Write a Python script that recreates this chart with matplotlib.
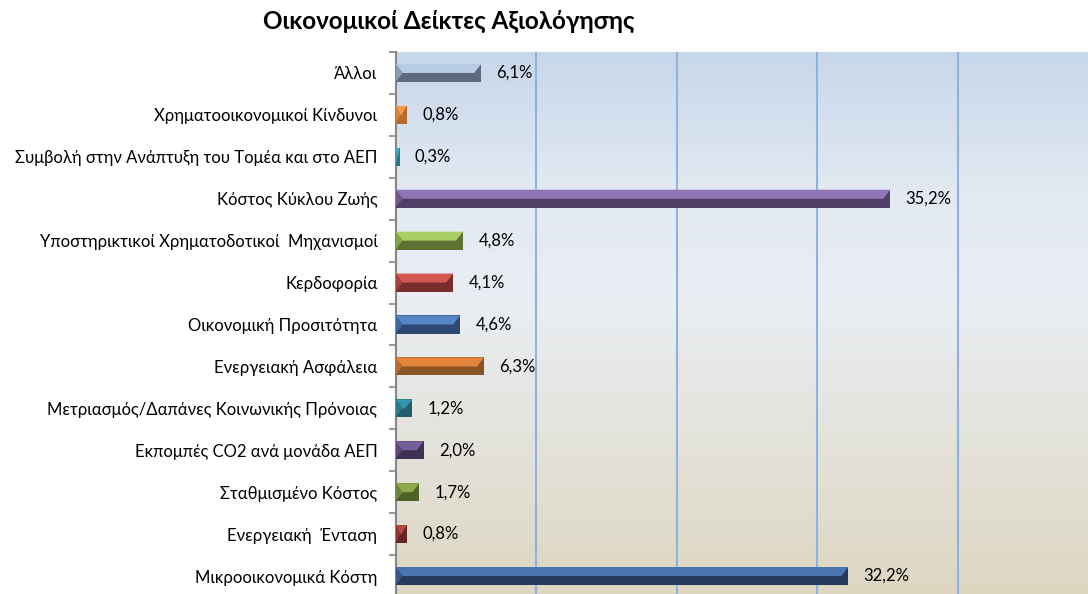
import matplotlib
matplotlib.use("Agg")
import matplotlib.pyplot as plt
import numpy as np
from matplotlib.colors import LinearSegmentedColormap

categories = [
    "Άλλοι",
    "Χρηματοοικονομικοί Κίνδυνοι",
    "Συμβολή στην Ανάπτυξη του Τομέα και στο ΑΕΠ",
    "Κόστος Κύκλου Ζωής",
    "Υποστηρικτικοί Χρηματοδοτικοί  Μηχανισμοί",
    "Κερδοφορία",
    "Οικονομική Προσιτότητα",
    "Ενεργειακή Ασφάλεια",
    "Μετριασμός/Δαπάνες Κοινωνικής Πρόνοιας",
    "Εκπομπές CO2 ανά μονάδα ΑΕΠ",
    "Σταθμισμένο Κόστος",
    "Ενεργειακή  Ένταση",
    "Μικροοικονομικά Κόστη",
]
values = [6.1, 0.8, 0.3, 35.2, 4.8, 4.1, 4.6, 6.3, 1.2, 2.0, 1.7, 0.8, 32.2]
title = "Οικονομικοί Δείκτες Αξιολόγησης"
x_ticks = [0, 10, 20, 30, 40]

light_colors = ["#B7CBE6", "#F59A4A", "#4BACC6", "#9075B4", "#AACF63", "#D55752",
                "#5686C6", "#E2853B", "#3395AC", "#775F9B", "#8FAA4C", "#B84642", "#4A74AE"]
dark_colors = ["#5E6A7E", "#B8692C", "#2D7488", "#4F3F66", "#5E7233", "#772E2D",
               "#2D4B72", "#8A5425", "#235E6C", "#3E3153", "#4F6229", "#622423", "#26395A"]
mid_colors = ["#8E9CB2", "#D9823C", "#3C93AA", "#6F5890", "#86A24B", "#A6433F",
              "#4068A0", "#B76D30", "#2B798C", "#5C4877", "#6F863B", "#8E3532", "#385784"]

plt.rcParams['font.family'] = ['Lato', 'DejaVu Sans']

W, H = 1088, 594
fig = plt.figure(figsize=(W / 100, H / 100), dpi=100)
left_px, top_px, bottom_px = 395.5, 52, 597
ax = fig.add_axes([left_px / W, (H - bottom_px) / H, 1 - left_px / W, (bottom_px - top_px) / H])

# background gradient
grad_cmap = LinearSegmentedColormap.from_list(
    "bg", [(0.0, "#DDD6C0"), (0.3, "#E4E3DC"), (0.55, "#EAEEF4"), (0.75, "#E2E9F2"), (1.0, "#C7D7EA")])
grad = np.linspace(0, 1, 256).reshape(-1, 1)
ax.imshow(grad, extent=[0, 1, 0, 1], transform=ax.transAxes, aspect='auto',
          cmap=grad_cmap, origin='lower', zorder=0)

xmax = (W - left_px) / 14.06
ax.set_xlim(0, xmax)
n = len(categories)
ypos = np.arange(n)
ax.set_ylim(n - 0.5, -0.5)

for xv in x_ticks[1:]:
    ax.axvline(xv, color="#8DB3E2", lw=1.5, zorder=1)

h = 0.43
bev = 0.5
for i, (v, lc, dc, mc) in enumerate(zip(values, light_colors, dark_colors, mid_colors)):
    y = ypos[i]
    ax.barh(y, v, height=h, color=dc, zorder=3, linewidth=0)
    top = y - h / 2
    mid = y
    bot = y + h / 2
    b = min(bev, v / 2.2)
    ax.fill([0, v, v - b, b], [top, top, mid, mid], color=lc, zorder=4, lw=0)
    ax.fill([0, b, 0], [top, mid, bot], color=mc, zorder=5, lw=0)
    label = f"{v:.1f}".replace('.', ',') + '%'
    ax.annotate(label, (v, y), xytext=(11, 0), textcoords='offset points',
                ha='left', va='center', fontsize=12, color='#000000', zorder=6)

ax.set_yticks(ypos)
ax.set_yticklabels(categories, fontsize=12)
ax.tick_params(axis='y', which='major', length=0, pad=13)
ax.set_yticks(np.arange(-0.5, n, 1.0), minor=True)
ax.tick_params(axis='y', which='minor', length=5, color="#868686", width=1.2, direction='out')
ax.set_xticks([])
for s in ['top', 'right', 'bottom']:
    ax.spines[s].set_visible(False)
ax.spines['left'].set_color("#868686")
ax.spines['left'].set_linewidth(1.5)

fig.text(449 / W, 1 - 21 / H, title, ha='center', va='center', fontsize=17.5, fontweight='bold')

fig.savefig("out.png", dpi=100)
